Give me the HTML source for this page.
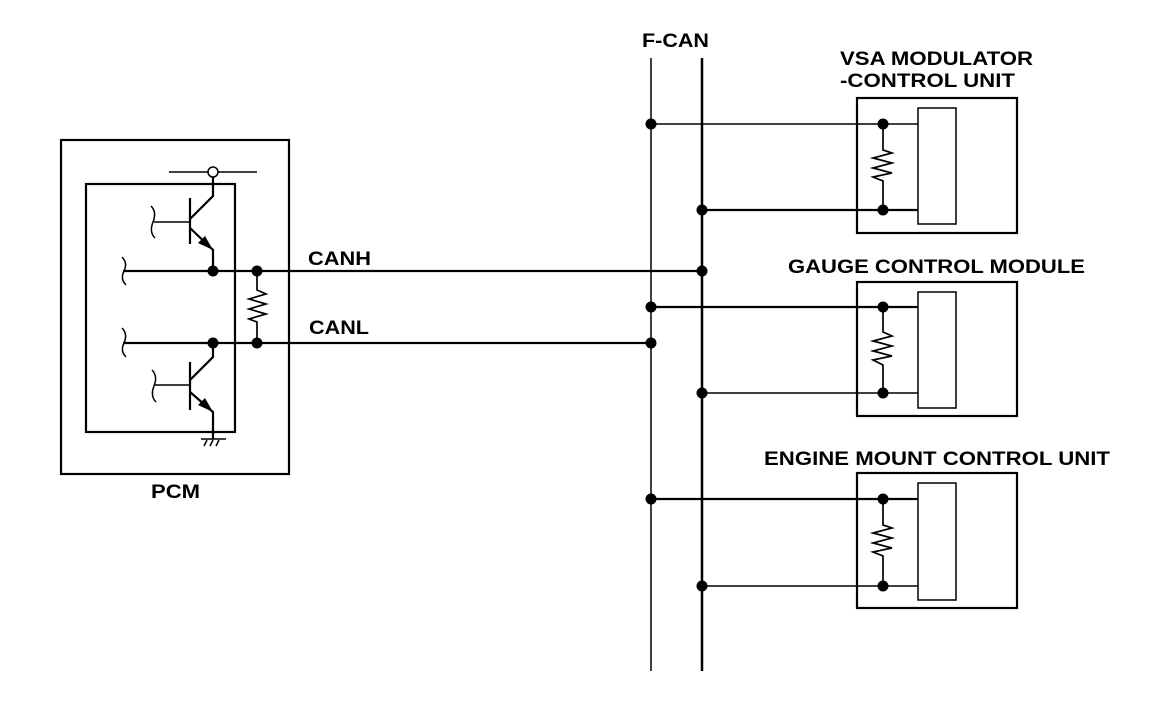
<!DOCTYPE html>
<html><head><meta charset="utf-8"><style>html,body{margin:0;padding:0;background:#fff}svg{display:block}</style></head>
<body>
<svg width="1152" height="716" viewBox="0 0 1152 716" xmlns="http://www.w3.org/2000/svg" font-family="'Liberation Sans',Arial,sans-serif" font-weight="bold" font-size="19">
<rect width="1152" height="716" fill="#fff"/>
<g stroke="#000" fill="none">
<!-- PCM -->
<rect x="61" y="140" width="228" height="334" stroke-width="2.2"/>
<rect x="86" y="184" width="149" height="248" stroke-width="2.2"/>
<!-- top transistor -->
<line x1="169" y1="172" x2="208" y2="172" stroke-width="1.5"/>
<line x1="218" y1="172" x2="257" y2="172" stroke-width="1.5"/>
<circle cx="213" cy="172" r="5" stroke-width="1.5" fill="#fff"/>
<polyline points="213,177 213,196 190,219" stroke-width="2.2"/>
<line x1="190" y1="198" x2="190" y2="244" stroke-width="2.2"/>
<line x1="154" y1="222" x2="190" y2="222" stroke-width="1.6"/>
<path d="M151,206 Q157,212 153,222 Q149,232 155,238" stroke-width="1.5"/>
<polyline points="190,228 213,250 213,271" stroke-width="2.2"/>
<!-- bottom transistor -->
<polyline points="213,343 213,357 190,380" stroke-width="2.2"/>
<line x1="190" y1="362" x2="190" y2="410" stroke-width="2.2"/>
<line x1="155" y1="385" x2="190" y2="385" stroke-width="1.6"/>
<path d="M152,370 Q158,376 154,386 Q150,396 156,402" stroke-width="1.5"/>
<polyline points="190,392 213,412 213,439" stroke-width="2.2"/>
<line x1="201" y1="439" x2="226" y2="439" stroke-width="1.6"/>
<path d="M204,446 L207,440 M210,446 L213,440 M216,446 L219,440" stroke-width="1.5"/>
<!-- squiggles on lines -->
<path d="M122,257 Q128,263 124,271 Q120,279 126,285" stroke-width="1.5"/>
<path d="M122,328 Q128,334 124,343 Q120,351 126,357" stroke-width="1.5"/>
<!-- CANH / CANL -->
<line x1="123" y1="271" x2="702" y2="271" stroke-width="2.2"/>
<line x1="123" y1="343" x2="651" y2="343" stroke-width="2.2"/>
<!-- PCM resistor -->
<polyline points="257,271 257,290 266,294 249,299 266,304 249,309 266,314 249,319 257,322 257,343" stroke-width="1.7"/>
<!-- F-CAN buses -->
<line x1="651" y1="58" x2="651" y2="671" stroke-width="1.5"/>
<line x1="702" y1="58" x2="702" y2="671" stroke-width="2.5"/>
<!-- VSA -->
<rect x="857" y="98" width="160" height="135" stroke-width="2.2"/>
<rect x="918" y="108" width="38" height="116" stroke-width="1.5"/>
<line x1="651" y1="124" x2="918" y2="124" stroke-width="1.5"/>
<line x1="702" y1="210" x2="918" y2="210" stroke-width="2.2"/>
<polyline points="883,124 883,150 892,153 873,158 892,163 873,168 892,173 873,177 883,181 883,210" stroke-width="1.7"/>
<!-- Gauge -->
<rect x="857" y="282" width="160" height="134" stroke-width="2.2"/>
<rect x="918" y="292" width="38" height="116" stroke-width="1.5"/>
<line x1="651" y1="307" x2="918" y2="307" stroke-width="2.2"/>
<line x1="702" y1="393" x2="918" y2="393" stroke-width="1.5"/>
<polyline points="883,307 883,332 892,336 873,341 892,346 873,351 892,356 873,360 883,365 883,393" stroke-width="1.7"/>
<!-- Engine -->
<rect x="857" y="473" width="160" height="135" stroke-width="2.2"/>
<rect x="918" y="483" width="38" height="117" stroke-width="1.5"/>
<line x1="651" y1="499" x2="918" y2="499" stroke-width="2.2"/>
<line x1="702" y1="586" x2="918" y2="586" stroke-width="1.5"/>
<polyline points="883,499 883,525 892,528 873,533 892,538 873,543 892,548 873,552 883,556 883,586" stroke-width="1.7"/>
</g>
<g fill="#000">
<polygon points="213,250 198,243 205,236"/>
<polygon points="213,412 198,405 205,398"/>
<circle cx="213" cy="271" r="5.5"/><circle cx="257" cy="271" r="5.5"/>
<circle cx="213" cy="343" r="5.5"/><circle cx="257" cy="343" r="5.5"/>
<circle cx="702" cy="271" r="5.5"/><circle cx="651" cy="343" r="5.5"/>
<circle cx="651" cy="124" r="5.5"/><circle cx="883" cy="124" r="5.5"/>
<circle cx="702" cy="210" r="5.5"/><circle cx="883" cy="210" r="5.5"/>
<circle cx="651" cy="307" r="5.5"/><circle cx="883" cy="307" r="5.5"/>
<circle cx="702" cy="393" r="5.5"/><circle cx="883" cy="393" r="5.5"/>
<circle cx="651" cy="499" r="5.5"/><circle cx="883" cy="499" r="5.5"/>
<circle cx="702" cy="586" r="5.5"/><circle cx="883" cy="586" r="5.5"/>
<text x="642" y="47" textLength="67" lengthAdjust="spacingAndGlyphs">F-CAN</text>
<text x="840" y="65" textLength="193" lengthAdjust="spacingAndGlyphs">VSA MODULATOR</text>
<text x="840" y="87" textLength="175" lengthAdjust="spacingAndGlyphs">-CONTROL UNIT</text>
<text x="788" y="273" textLength="297" lengthAdjust="spacingAndGlyphs">GAUGE CONTROL MODULE</text>
<text x="764" y="465" textLength="346" lengthAdjust="spacingAndGlyphs">ENGINE MOUNT CONTROL UNIT</text>
<text x="308" y="265" textLength="63" lengthAdjust="spacingAndGlyphs">CANH</text>
<text x="309" y="334" textLength="60" lengthAdjust="spacingAndGlyphs">CANL</text>
<text x="151" y="498" textLength="49" lengthAdjust="spacingAndGlyphs">PCM</text>
</g>
</svg>
</body></html>
